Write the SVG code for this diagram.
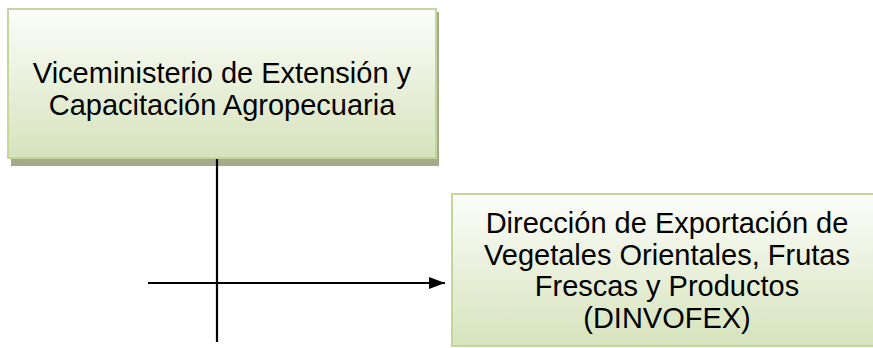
<svg xmlns="http://www.w3.org/2000/svg" width="873" height="348" viewBox="0 0 873 348">
<style>
.box{stroke:#c3d69b;stroke-width:2;fill:url(#g)}
.shadow{fill:#a3ab8a}
.t{font-family:"Liberation Sans",Arial,sans-serif;font-size:29px;fill:#000;text-anchor:middle}
.c{stroke:#000;stroke-width:2.2;fill:none}
</style>
<defs>
<linearGradient id="g" x1="0" y1="0" x2="0" y2="1">
<stop offset="0" stop-color="#fcfdfa"/>
<stop offset="1" stop-color="#d6e3bc"/>
</linearGradient>
<marker id="arr" markerUnits="userSpaceOnUse" markerWidth="16" markerHeight="12" refX="16" refY="6" orient="auto">
<path d="M0,0 L16,6 L0,12 Z" fill="#000"/>
</marker>
</defs>
<g id="node1">
<rect class="shadow" x="11" y="12" width="428" height="154"/>
<rect class="box" x="8" y="9" width="428" height="149"/>
<text class="t" x="222" y="83">Viceministerio de Extensión y</text>
<text class="t" x="222" y="115">Capacitación Agropecuaria</text>
</g>
<g id="node2">
<rect class="box" x="452" y="194" width="430" height="152"/>
<text class="t" x="667" y="233">Dirección de Exportación de</text>
<text class="t" x="667" y="265">Vegetales Orientales, Frutas</text>
<text class="t" x="667" y="296">Frescas y Productos</text>
<text class="t" x="667" y="328">(DINVOFEX)</text>
</g>
<g id="connectors">
<line class="c" x1="217" y1="159" x2="217" y2="342"/>
<line class="c" x1="148" y1="283" x2="445" y2="283" marker-end="url(#arr)"/>
</g>
</svg>
